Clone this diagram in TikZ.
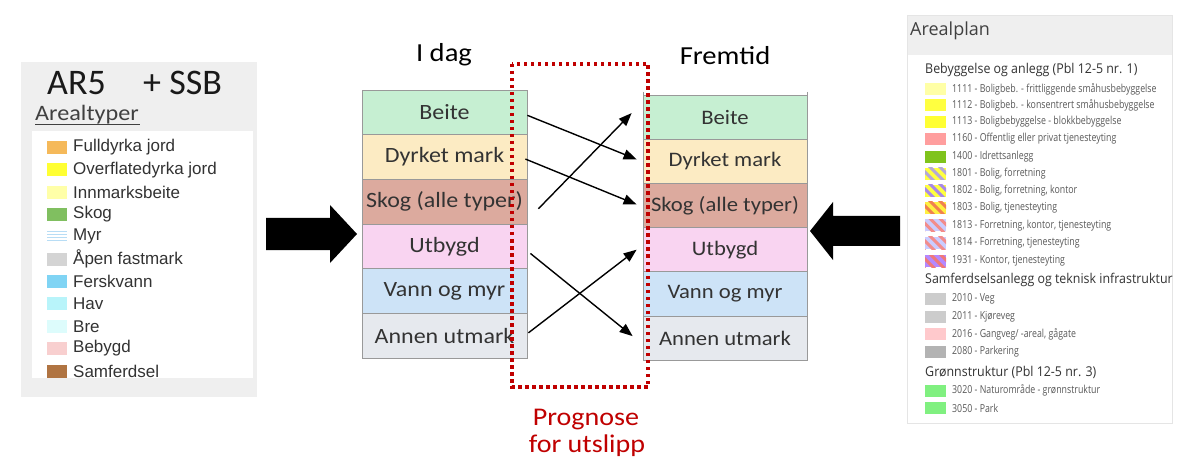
\documentclass[tikz,border=0pt]{standalone}
\usepackage{fontspec}
\setmainfont{Carlito}
\newfontfamily\arial{Liberation Sans}
\newfontfamily\osans{Open Sans}
\newfontfamily\osh[FakeStretch=0.92]{Open Sans}
\newfontfamily\osn[FakeStretch=0.8]{Open Sans}
\newfontfamily\calw[FakeStretch=1.1]{Carlito}
\usetikzlibrary{arrows.meta,calc}
\definecolor{cBeite}{HTML}{C6EFD2}
\definecolor{cDyrk}{HTML}{FCEBC3}
\definecolor{cSkog}{HTML}{DCAA9E}
\definecolor{cUtb}{HTML}{F9D4F1}
\definecolor{cVann}{HTML}{CDE3F7}
\definecolor{cAnnen}{HTML}{E6E9EE}
\definecolor{pred}{HTML}{C00000}
\definecolor{panelgray}{HTML}{EFEFEF}
\definecolor{lg1}{HTML}{F5B95A}
\definecolor{lg2}{HTML}{FFFF33}
\definecolor{lg3}{HTML}{FFFFA8}
\definecolor{lg4}{HTML}{80BF60}
\definecolor{lg5}{HTML}{FFFFFF}
\definecolor{lg6}{HTML}{D4D4D4}
\definecolor{lg7}{HTML}{80D4F4}
\definecolor{lg8}{HTML}{B8F4FA}
\definecolor{lg9}{HTML}{DDFCFC}
\definecolor{lg10}{HTML}{F8CFCF}
\definecolor{lg11}{HTML}{B07442}
\definecolor{myrblue}{HTML}{B8DDF5}
\definecolor{rs1}{HTML}{FFFFA6}
\definecolor{rs2}{HTML}{FFFF40}
\definecolor{rs3}{HTML}{FFFF33}
\definecolor{rs4}{HTML}{FF9E9E}
\definecolor{rs5}{HTML}{7FC31C}
\definecolor{rs6}{HTML}{CCCCCC}
\definecolor{rs7}{HTML}{CCCCCC}
\definecolor{rs8}{HTML}{FFC9CC}
\definecolor{rs9}{HTML}{B3B3B3}
\definecolor{rs10}{HTML}{80F080}
\definecolor{rs11}{HTML}{80F080}
\definecolor{hb1}{HTML}{FFFF40}
\definecolor{hs1}{HTML}{B4A8D8}
\definecolor{hb2}{HTML}{FFFF40}
\definecolor{hs2}{HTML}{A888E8}
\definecolor{hb3}{HTML}{FFF040}
\definecolor{hs3}{HTML}{F08050}
\definecolor{hb4}{HTML}{CACCFF}
\definecolor{hs4}{HTML}{F28C8C}
\definecolor{hb5}{HTML}{CACCFF}
\definecolor{hs5}{HTML}{F28C8C}
\definecolor{hb6}{HTML}{B488FF}
\definecolor{hs6}{HTML}{F07878}
\begin{document}
\begin{tikzpicture}[x=1pt,y=-1pt,
  lrow/.style={draw=black!40, line width=0.8pt, minimum width=165pt, minimum height=44.7pt, inner sep=0pt, font=\calw\fontsize{21.8}{24}\selectfont, text=black!80},
  rrow/.style={draw=black!40, line width=0.8pt, minimum width=164pt, minimum height=44.2pt, inner sep=0pt, font=\calw\fontsize{20.6}{24}\selectfont, text=black!80},
  conn/.style={line width=1.4pt, -{Triangle[length=13pt,width=10pt]}},
  coltitle/.style={font=\calw\fontsize{26}{30}\selectfont, anchor=base, inner sep=0pt},
  lgtext/.style={font=\arial\fontsize{17}{20}\selectfont, text=black!80, anchor=west, inner sep=0pt},
  rgtext/.style={font=\osn\fontsize{11}{12}\selectfont, text=black!65, anchor=west, inner sep=0pt},
  rghead/.style={font=\osh\fontsize{13.5}{16}\selectfont, text=black!80, anchor=west, inner sep=0pt},
  bigarrow/.style={fill=black}
]
\useasboundingbox (0,0) rectangle (1182,470);
\fill[white] (0,0) rectangle (1182,470);

% ---------- left panel ----------
\fill[panelgray] (21,62) rectangle (257,397);
\fill[white] (32,131) rectangle (253,378);
\node[font=\fontsize{36}{40}\selectfont, anchor=base west, inner sep=0pt, text=black!90] (ar5) at (47,95) {AR5};
\node[font=\fontsize{36}{40}\selectfont, anchor=base west, inner sep=0pt, text=black!90] (ssb) at (143,95) {+ SSB};
\node[font=\calw\fontsize{22}{26}\selectfont, anchor=base west, inner sep=0pt, text=black!75] (arealtyper) at (35,121) {Arealtyper};
\draw[black!75, line width=1pt] (arealtyper.base west) ++(0,4) -- ++(105,0);
\foreach \i/\y/\t in {1/147.5/{Fulldyrka jord}, 2/169.8/{Overflatedyrka jord}, 3/192.2/{Innmarksbeite}, 4/214.5/{Skog}, 5/236.9/{Myr}, 6/259.2/{Åpen fastmark}, 7/281.6/{Ferskvann}, 8/303.9/{Hav}, 9/326.3/{Bre}, 10/348.6/{Bebygd}, 11/371/{Samferdsel}}{
  \fill[lg\i] (47,\y-6.5) rectangle (67,\y+6.5);
  \node[lgtext] (lt\i) at (73,\y) {\t};
}
\foreach \d in {-5,-2,1,4}{\draw[myrblue, line width=0.8pt] (47,236.9+\d) -- (67,236.9+\d);}

% ---------- big arrows ----------
\fill[bigarrow] (266,218) -- (330,218) -- (330,205) -- (357,234) -- (330,263) -- (330,250) -- (266,250) -- cycle;
\fill[bigarrow] (810,231) -- (833,202) -- (833,216) -- (900,216) -- (900,246) -- (833,246) -- (833,260) -- cycle;

% ---------- columns ----------
\node[coltitle] (idag) at (444,62) {I dag};
\node[coltitle] (fremtid) at (725,65) {Fremtid};
\foreach \i/\c/\t in {1/cBeite/{Beite}, 2/cDyrk/{Dyrket mark}, 3/cSkog/{Skog (alle typer)}, 4/cUtb/{Utbygd}, 5/cVann/{Vann og myr}, 6/cAnnen/{Annen utmark}}{
  \node[lrow, fill=\c] (L\i) at (444.5, 90+22.35+44.7*\i-44.7) {\t};
  \node[rrow, fill=\c] (R\i) at (725, 95+22.1+44.2*\i-44.2) {\t};
}
\draw[black!40, line width=0.8pt] (643,92) -- (643,95) (807,92) -- (807,95);

% ---------- connectors ----------
\draw[conn] ($(L1.east)+(0,3)$) -- ($(R2.west)+(-6,-2)$);
\draw[conn] ($(L2.east)+(-2,2)$) -- ($(R3.west)+(-6,-1)$);
\draw[conn] ($(L3.east)+(11,7)$) -- ($(R1.west)+(-11,-4)$);
\draw[conn] ($(L4.east)+(3,7)$) -- ($(R6.west)+(-10,-2)$);
\draw[conn] ($(L6.east)+(1,-3)$) -- ($(R4.west)+(-6,0)$);

% ---------- red dotted box ----------
\draw[pred, line width=4pt, dash pattern=on 3.5pt off 3.5pt] (512,64) rectangle (648,387);
\node[coltitle, text=pred, font=\calw\fontsize{25.5}{30}\selectfont] (prog1) at (586,425) {Prognose};
\node[coltitle, text=pred, font=\calw\fontsize{25.5}{30}\selectfont] (prog2) at (587,452) {for utslipp};

% ---------- right panel ----------
\fill[white] (907,15) rectangle (1172,423);
\fill[panelgray] (907,15) rectangle (1172,55);
\draw[black!10, line width=0.8pt] (907,15) rectangle (1172,423);
\node[font=\osans\fontsize{18}{20}\selectfont, text=black!75, anchor=west, inner sep=0pt] (arealplan) at (910,31) {Arealplan};
\node[rghead] (h1) at (925,70) {Bebyggelse og anlegg (Pbl 12-5 nr. 1)};
\node[rghead] (h2) at (925,280) {Samferdselsanlegg og teknisk infrastruktur};
\node[rghead] (h3) at (925,372) {Grønnstruktur (Pbl 12-5 nr. 3)};
\foreach \i/\y/\t in {1/89/{1111 - Boligbeb. - frittliggende småhusbebyggelse}, 2/105/{1112 - Boligbeb. - konsentrert småhusbebyggelse}, 3/121.7/{1113 - Boligbebyggelse - blokkbebyggelse}, 4/139/{1160 - Offentlig eller privat tjenesteyting}, 5/157/{1400 - Idrettsanlegg}, 6/299/{2010 - Veg}, 7/317/{2011 - Kjøreveg}, 8/334/{2016 - Gangveg/ -areal, gågate}, 9/352/{2080 - Parkering}, 10/390.5/{3020 - Naturområde - grønnstruktur}, 11/408/{3050 - Park}}{
  \fill[rs\i] (925,\y-6) rectangle (946,\y+6);
  \node[rgtext] (rt\i) at (952,\y) {\t};
}
\foreach \i/\y/\t in {1/174/{1801 - Bolig, forretning}, 2/191/{1802 - Bolig, forretning, kontor}, 3/208/{1803 - Bolig, tjenesteyting}, 4/225.5/{1813 - Forretning, kontor, tjenesteyting}, 5/243/{1814 - Forretning, tjenesteyting}, 6/261/{1931 - Kontor, tjenesteyting}}{
  \begin{scope}
    \clip (925,\y-6) rectangle (946,\y+6);
    \fill[hb\i] (925,\y-6) rectangle (946,\y+6);
    \foreach \k in {-16,-6,4,14}{\draw[hs\i, line width=3pt] (925+\k,\y-8) -- (941+\k,\y+8);}
  \end{scope}
  \node[rgtext] (rh\i) at (952,\y) {\t};
}
\end{tikzpicture}
\end{document}
